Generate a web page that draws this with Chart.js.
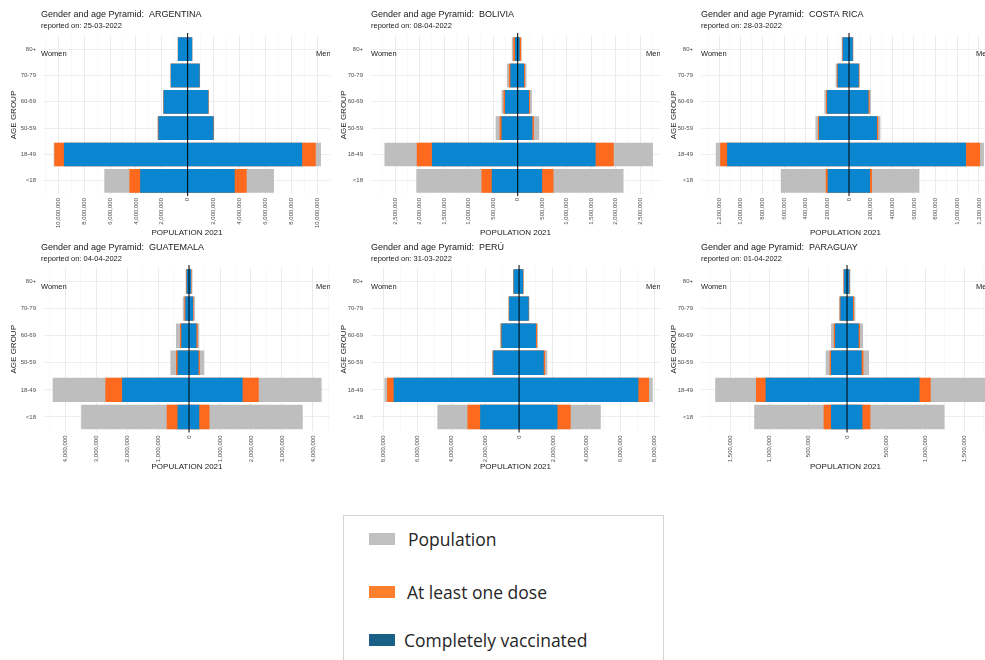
<!DOCTYPE html>
<html>
<head>
<meta charset="utf-8">
<script src="https://cdn.jsdelivr.net/npm/chart.js@4.4.1/dist/chart.umd.min.js"></script>
<style>
body { margin: 0; width: 985px; height: 660px; overflow: hidden; background: #fff; position: relative; }
.panel { position: absolute; width: 330px; height: 240px; }
.leyenda { position: absolute; left: 343px; top: 515px; width: 319px; height: 170px; border: 1px solid #d4d4d4; font-family: "Open Sans", sans-serif; font-size: 17.5px; color: #262626; }
.item { position: absolute; left: 25px; height: 20px; line-height: 20px; }
.item span { position: absolute; left: 0; top: 4px; width: 26px; height: 12px; }
.item b { position: absolute; white-space: nowrap; font-weight: normal; }
</style>
</head>
<body>
<div class="panel" style="left:0;top:0"><canvas id="argentina" width="330" height="240"></canvas></div>
<div class="panel" style="left:330px;top:0"><canvas id="bolivia" width="330" height="240"></canvas></div>
<div class="panel" style="left:660px;top:0"><canvas id="costarica" width="330" height="240"></canvas></div>
<div class="panel" style="left:0;top:240px"><canvas id="guatemala" width="330" height="240"></canvas></div>
<div class="panel" style="left:330px;top:240px"><canvas id="peru" width="330" height="240"></canvas></div>
<div class="panel" style="left:660px;top:240px"><canvas id="paraguay" width="330" height="240"></canvas></div>

<div class="leyenda">
  <div class="item" style="top:13px"><span style="background:#c0c0c0"></span><b style="left:39px">Population</b></div>
  <div class="item" style="top:66px"><span style="background:#fd7f2c"></span><b style="left:38px">At least one dose</b></div>
  <div class="item" style="top:114px"><span style="background:#1a5f85"></span><b style="left:35px">Completely vaccinated</b></div>
</div>

<script>
const grupos = ['80+', '70-79', '60-69', '50-59', '18-49', '<18'];

// ARGENTINA
const argPoblacionMujeres = [770000, 1330000, 1900000, 2330000, 10350000, 6440000];
const argPoblacionHombres = [360000, 950000, 1640000, 2050000, 10300000, 6670000];
const argDosisMujeres = [760000, 1310000, 1880000, 2300000, 10300000, 4500000];
const argDosisHombres = [355000, 940000, 1630000, 2030000, 9900000, 4560000];
const argCompletoMujeres = [750000, 1300000, 1860000, 2260000, 9560000, 3670000];
const argCompletoHombres = [350000, 930000, 1600000, 2000000, 8850000, 3640000];
const argTicks = [-10000000, -8000000, -6000000, -4000000, -2000000, 0, 2000000, 4000000, 6000000, 8000000, 10000000];

// BOLIVIA
const bolPoblacionMujeres = [120000, 220000, 330000, 450000, 2720000, 2070000];
const bolPoblacionHombres = [80000, 180000, 290000, 440000, 2760000, 2160000];
const bolDosisMujeres = [90000, 180000, 290000, 370000, 2060000, 740000];
const bolDosisHombres = [70000, 150000, 250000, 330000, 1960000, 730000];
const bolCompletoMujeres = [55000, 150000, 260000, 330000, 1750000, 530000];
const bolCompletoHombres = [40000, 130000, 230000, 300000, 1590000, 500000];
const bolTicks = [-2500000, -2000000, -1500000, -1000000, -500000, 0, 500000, 1000000, 1500000, 2000000, 2500000];

// COSTA RICA
const crPoblacionMujeres = [68000, 123000, 228000, 310000, 1230000, 630000];
const crPoblacionHombres = [40000, 100000, 203000, 290000, 1246000, 650000];
const crDosisMujeres = [62000, 112000, 212000, 286000, 1190000, 215000];
const crDosisHombres = [38000, 95000, 190000, 270000, 1210000, 212000];
const crCompletoMujeres = [58000, 105000, 203000, 277000, 1126000, 197000];
const crCompletoHombres = [35000, 90000, 180000, 258000, 1080000, 194000];
const crTicks = [-1200000, -1000000, -800000, -600000, -400000, -200000, 0, 200000, 400000, 600000, 800000, 1000000, 1200000];

// GUATEMALA
const guaPoblacionMujeres = [110000, 200000, 420000, 600000, 4400000, 3480000];
const guaPoblacionHombres = [110000, 190000, 330000, 490000, 4280000, 3670000];
const guaDosisMujeres = [90000, 150000, 290000, 420000, 2700000, 720000];
const guaDosisHombres = [80000, 150000, 280000, 350000, 2250000, 660000];
const guaCompletoMujeres = [75000, 120000, 250000, 370000, 2160000, 370000];
const guaCompletoHombres = [65000, 130000, 240000, 310000, 1730000, 330000];
const guaTicks = [-4000000, -3000000, -2000000, -1000000, 0, 1000000, 2000000, 3000000, 4000000];

// PERÚ
const perPoblacionMujeres = [350000, 630000, 1120000, 1600000, 7960000, 4830000];
const perPoblacionHombres = [280000, 610000, 1120000, 1670000, 7900000, 4830000];
const perDosisMujeres = [335000, 610000, 1080000, 1560000, 7800000, 3050000];
const perDosisHombres = [260000, 590000, 1060000, 1540000, 7680000, 3050000];
const perCompletoMujeres = [320000, 590000, 1040000, 1520000, 7410000, 2300000];
const perCompletoHombres = [240000, 570000, 1000000, 1460000, 7050000, 2270000];
const perTicks = [-8000000, -6000000, -4000000, -2000000, 0, 2000000, 4000000, 6000000, 8000000];

// PARAGUAY
const parPoblacionMujeres = [51000, 103000, 205000, 273000, 1690000, 1190000];
const parPoblacionHombres = [43000, 107000, 205000, 282000, 1770000, 1250000];
const parDosisMujeres = [44000, 94000, 170000, 222000, 1167000, 300000];
const parDosisHombres = [36000, 90000, 167000, 210000, 1073000, 300000];
const parCompletoMujeres = [38000, 85000, 154000, 205000, 1043000, 205000];
const parCompletoHombres = [30000, 77000, 150000, 188000, 930000, 197000];
const parTicks = [-1500000, -1000000, -500000, 0, 500000, 1000000, 1500000];

const FUENTE = '"Liberation Sans", Arial, sans-serif';

// mujeres a la izquierda (negativo), hombres a la derecha
function pares(mujeres, hombres) {
    return mujeres.map((v, i) => [-v, hombres[i]]);
}

// ticks mayores con etiqueta + lineas menores a medio camino
function ticksConMenores(mayores, min, max) {
    const paso = mayores[1] - mayores[0];
    const todos = [];
    mayores.forEach((v, i) => {
        if (i === 0 && v - paso / 2 >= min) todos.push({ value: v - paso / 2 });
        todos.push({ value: v });
        if (v + paso / 2 <= max) todos.push({ value: v + paso / 2 });
    });
    return todos;
}

function pluginTextos(pais, fecha, fila) {
    return {
        id: 'textos',
        afterDatasetsDraw(chart) {
            const ctx = chart.ctx;
            const area = chart.chartArea;
            const x0 = chart.scales.x.getPixelForValue(0);
            ctx.save();
            ctx.strokeStyle = '#000';
            ctx.lineWidth = 1;
            ctx.beginPath();
            ctx.moveTo(x0, area.top - 3);
            ctx.lineTo(x0, area.bottom + 2);
            ctx.stroke();
            ctx.restore();
        },
        afterDraw(chart) {
            const ctx = chart.ctx;
            const yTitulo = fila === 0 ? 15 : 7.5;
            const yMujeres = chart.scales.y.getPixelForValue(0) + 5;
            ctx.save();
            ctx.fillStyle = '#1a1a1a';
            ctx.textBaseline = 'middle';
            ctx.textAlign = 'left';
            ctx.font = '9px ' + FUENTE;
            ctx.fillText('Gender and age Pyramid:  ' + pais, 41, yTitulo);
            ctx.font = '7.5px ' + FUENTE;
            ctx.fillText('reported on: ' + fecha, 41, yTitulo + 11);
            ctx.fillText('Women', 41, yMujeres);
            ctx.fillText('Men', chart.width - 14, yMujeres);
            ctx.restore();
        }
    };
}

function crearPiramide(id, pais, fecha, fila, izquierda, pob, dosis, completo, mayores, min, max) {
    const ctx = document.getElementById(id).getContext('2d');
    const arriba = fila === 0 ? 36 : 28;
    const abajo = fila === 0 ? 0 : 6;
    const altoEje = fila === 0 ? 46 : 43.5;
    const esMayor = (v) => mayores.includes(v);

    return new Chart(ctx, {
        type: 'bar',
        data: {
            labels: grupos,
            datasets: [
                {
                    label: 'Completely vaccinated',
                    data: pares(completo[0], completo[1]),
                    backgroundColor: '#0a86d0'
                },
                {
                    label: 'At least one dose',
                    data: pares(dosis[0], dosis[1]),
                    backgroundColor: '#fe6a1d'
                },
                {
                    label: 'Population',
                    data: pares(pob[0], pob[1]),
                    backgroundColor: '#bebebe'
                }
            ]
        },
        options: {
            indexAxis: 'y',
            responsive: false,
            animation: false,
            devicePixelRatio: 1,
            layout: { autoPadding: false, padding: { top: arriba, bottom: abajo, left: 0, right: 0 } },
            datasets: {
                bar: {
                    grouped: false,
                    barPercentage: 1,
                    categoryPercentage: 0.9
                }
            },
            plugins: {
                legend: { display: false },
                tooltip: { enabled: false }
            },
            scales: {
                x: {
                    type: 'linear',
                    min: min,
                    max: max,
                    border: { display: false },
                    afterBuildTicks: (s) => { s.ticks = ticksConMenores(mayores, min, max); },
                    grid: {
                        drawTicks: false,
                        color: (c) => c.tick && esMayor(c.tick.value) ? '#e8e8e8' : '#f3f3f3',
                        lineWidth: (c) => c.tick && esMayor(c.tick.value) ? 0.9 : 0.6
                    },
                    ticks: {
                        autoSkip: false,
                        minRotation: 90,
                        maxRotation: 90,
                        padding: fila === 0 ? 4 : 5,
                        color: '#4d4d4d',
                        font: { family: FUENTE, size: 6 },
                        callback: (v) => esMayor(v) ? Math.abs(v).toLocaleString('en-US') : ''
                    },
                    title: {
                        display: true,
                        text: 'POPULATION 2021',
                        color: '#1a1a1a',
                        font: { family: FUENTE, size: 8 },
                        padding: { top: 0, bottom: 2 }
                    },
                    afterFit: (s) => {
                        s.height = altoEje;
                        s.paddingLeft = 0;
                        s.paddingRight = 0;
                    }
                },
                y: {
                    border: { display: false },
                    grid: {
                        offset: false,
                        drawTicks: false,
                        color: '#ececec',
                        lineWidth: 0.9
                    },
                    ticks: {
                        padding: 8,
                        color: '#4d4d4d',
                        font: { family: FUENTE, size: 6 }
                    },
                    title: {
                        display: true,
                        text: 'AGE GROUP',
                        color: '#1a1a1a',
                        font: { family: FUENTE, size: 8 },
                        padding: { top: 9, bottom: 0 }
                    },
                    afterFit: (s) => {
                        s.width = izquierda;
                        s.paddingTop = 0;
                        s.paddingBottom = 0;
                    }
                }
            }
        },
        plugins: [pluginTextos(pais, fecha, fila)]
    });
}

document.addEventListener('DOMContentLoaded', () => {
    crearPiramide('argentina', 'ARGENTINA', '25-03-2022', 0, 44,
        [argPoblacionMujeres, argPoblacionHombres], [argDosisMujeres, argDosisHombres], [argCompletoMujeres, argCompletoHombres],
        argTicks, -11100000, 11000000);
    crearPiramide('bolivia', 'BOLIVIA', '08-04-2022', 0, 41,
        [bolPoblacionMujeres, bolPoblacionHombres], [bolDosisMujeres, bolDosisHombres], [bolCompletoMujeres, bolCompletoHombres],
        bolTicks, -2994000, 2904000);
    crearPiramide('costarica', 'COSTA RICA', '28-03-2022', 0, 41,
        [crPoblacionMujeres, crPoblacionHombres], [crDosisMujeres, crDosisHombres], [crCompletoMujeres, crCompletoHombres],
        crTicks, -1367000, 1302000);
    crearPiramide('guatemala', 'GUATEMALA', '04-04-2022', 1, 44,
        [guaPoblacionMujeres, guaPoblacionHombres], [guaDosisMujeres, guaDosisHombres], [guaCompletoMujeres, guaCompletoHombres],
        guaTicks, -4680000, 4550000);
    crearPiramide('peru', 'PERÚ', '31-03-2022', 1, 41,
        [perPoblacionMujeres, perPoblacionHombres], [perDosisMujeres, perDosisHombres], [perCompletoMujeres, perCompletoHombres],
        perTicks, -8750000, 8330000);
    crearPiramide('paraguay', 'PARAGUAY', '01-04-2022', 1, 41,
        [parPoblacionMujeres, parPoblacionHombres], [parDosisMujeres, parDosisHombres], [parCompletoMujeres, parCompletoHombres],
        parTicks, -1872000, 1833000);
});
</script>
</body>
</html>
